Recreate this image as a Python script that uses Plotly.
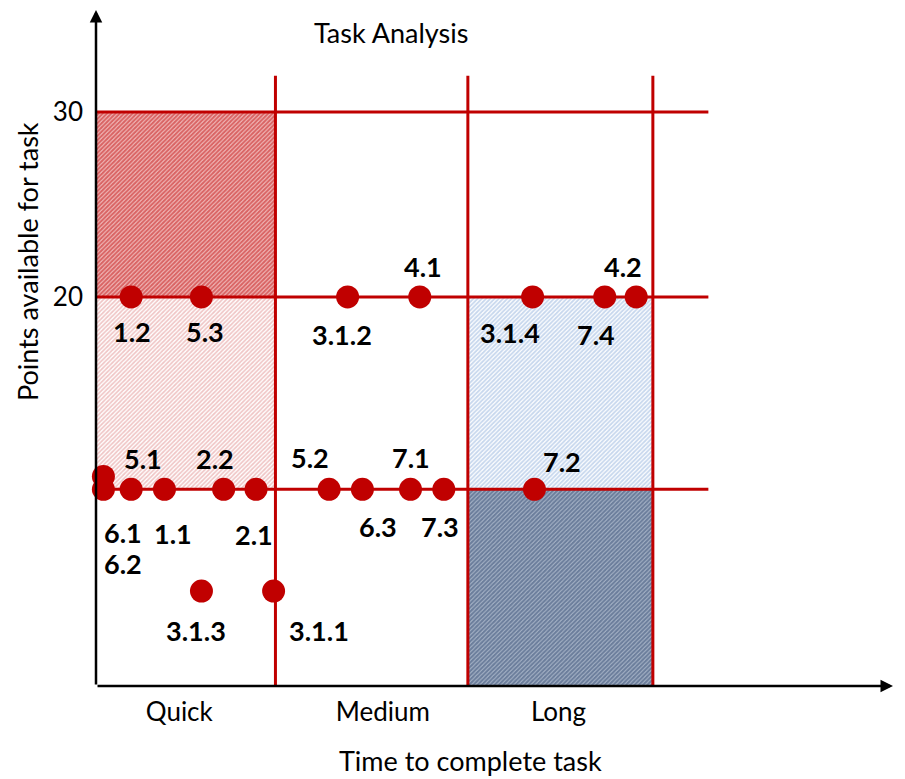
import plotly.graph_objects as go

# ---------------- data ----------------
title_text = "Task Analysis"
x_title = "Time to complete task"
y_title = "Points available for task"

time_categories = ["Quick", "Medium", "Long"]
time_category_centres = [4.5, 15.5, 25.0]
time_boundaries = [9.7, 20.1, 30.1]          # end of Quick / Medium / Long
point_levels = [30, 20, 9.6]                 # horizontal guide levels
y_tick_values = [20, 30]
y_tick_labels = ["20", "30"]

task_ids = ["1.2", "5.3", "3.1.2", "4.1", "3.1.4", "7.4", "4.2",
            "6.1", "6.2", "5.1", "1.1", "2.2", "2.1",
            "5.2", "6.3", "7.1", "7.3", "7.2",
            "3.1.3", "3.1.1"]
task_time = [1.9, 5.7, 13.6, 17.5, 23.6, 27.5, 29.2,
             0.4, 0.4, 1.9, 3.7, 6.9, 8.65,
             12.6, 14.4, 17.0, 18.8, 23.7,
             5.7, 9.6]
task_points = [20, 20, 20, 20, 20, 20, 20,
               10.3, 9.6, 9.6, 9.6, 9.6, 9.6,
               9.6, 9.6, 9.6, 9.6, 9.6,
               4.1, 4.1]

# ---------------- styling / layout ----------------
label_offsets = {  # (xshift, yshift) in px
    "1.2": (1, -35), "5.3": (4, -35), "3.1.2": (-6, -38), "4.1": (3, 30),
    "3.1.4": (-23, -36), "7.4": (-9, -38), "4.2": (-13, 30),
    "6.1": (20, -56), "6.2": (20, -74), "5.1": (12, 31), "1.1": (9, -44),
    "2.2": (-9, 31), "2.1": (-2, -45), "5.2": (-19, 32), "6.3": (16, -37),
    "7.1": (0, 32), "7.3": (-4, -37), "7.2": (28, 28),
    "3.1.3": (-5, -39), "3.1.1": (45, -39),
}

RED = "#c00000"
X_MAX = 43.08
Y_MIN, Y_MAX = -1.03, 35.51
LINE_X_END = 33.1
LINE_Y_TOP = 31.95
FONT = "Lato"
W, H = 905, 779
OFF = 8  # page body margin in the browser
ML, MT = 96 - OFF, 10 - OFF
MR, MB = W - (893 - OFF), H - (686 - OFF)

fig = go.Figure()

def region(x0, x1, y0, y1, fg, bg, solidity, size=3):
    fig.add_trace(go.Scatter(
        x=[x0, x1, x1, x0, x0], y=[y0, y0, y1, y1, y0],
        mode="lines", line=dict(width=0), fill="toself",
        fillcolor=bg,
        fillpattern=dict(shape="/", fgcolor=fg, bgcolor=bg, size=size, solidity=solidity),
        hoverinfo="skip", showlegend=False))

q_end, m_end, l_end = time_boundaries
top, mid, low = point_levels
region(0, q_end, mid, top, "#c00000", "#f3c8c8", 0.7, 3)
region(0, q_end, low, mid, "#e08c8c", "#ffffff", 0.55, 3)
region(m_end, l_end, low, mid, "#8fb0dc", "#ffffff", 0.6, 3)
region(m_end, l_end, Y_MIN, low, "#1f3a64", "#b8c3d4", 0.75, 3)

# red guide lines
lx, ly = [], []
for lv in point_levels:
    lx += [0, LINE_X_END, None]
    ly += [lv, lv, None]
for b in time_boundaries:
    lx += [b, b, None]
    ly += [Y_MIN, LINE_Y_TOP, None]
fig.add_trace(go.Scatter(x=lx, y=ly, mode="lines", line=dict(color=RED, width=3),
                         hoverinfo="skip", showlegend=False, cliponaxis=False))

# task dots
fig.add_trace(go.Scatter(x=task_time, y=task_points, mode="markers",
                         marker=dict(size=23, color=RED, line=dict(width=0)),
                         text=task_ids, hoverinfo="text", showlegend=False,
                         cliponaxis=False))

# task labels
for tid, tx, ty in zip(task_ids, task_time, task_points):
    dx, dy = label_offsets[tid]
    fig.add_annotation(x=tx, y=ty, text=f"<b>{tid}</b>", showarrow=False,
                       xshift=dx, yshift=dy,
                       font=dict(family=FONT, size=27, color="black"))

# axes arrows
fig.add_annotation(x=X_MAX, y=Y_MIN, ax=0, ay=Y_MIN, axref="x", ayref="y",
                   xref="x", yref="y", text="", showarrow=True,
                   arrowhead=2, arrowsize=1, arrowwidth=2.5, arrowcolor="black")
fig.add_annotation(x=0, y=Y_MAX, ax=0, ay=Y_MIN, axref="x", ayref="y",
                   xref="x", yref="y", text="", showarrow=True,
                   arrowhead=2, arrowsize=1, arrowwidth=2.5, arrowcolor="black")

def px_to_paper(px, py):
    px -= OFF
    py -= OFF
    return (px - ML) / (W - ML - MR), 1 - (py - MT) / (H - MT - MB)

tx_, ty_ = px_to_paper(391, 32)
fig.add_annotation(x=tx_, y=ty_, xref="paper", yref="paper", text=title_text,
                   showarrow=False, xanchor="center", yanchor="middle",
                   font=dict(family=FONT, size=27, color="black"))
tx_, ty_ = px_to_paper(27, 262)
fig.add_annotation(x=tx_, y=ty_, xref="paper", yref="paper", text=y_title,
                   textangle=-90, showarrow=False, xanchor="center", yanchor="middle",
                   font=dict(family=FONT, size=27, color="black"))
tx_, ty_ = px_to_paper(470, 760)
fig.add_annotation(x=tx_, y=ty_, xref="paper", yref="paper", text=x_title,
                   showarrow=False, xanchor="center", yanchor="middle",
                   font=dict(family=FONT, size=27, color="black"))

fig.update_layout(
    width=W, height=H, autosize=False,
    margin=dict(l=ML, r=MR, t=MT, b=MB, autoexpand=False),
    plot_bgcolor="white", paper_bgcolor="white",
    xaxis=dict(range=[0, X_MAX], showgrid=False, zeroline=False, showline=False,
               automargin=False,
               tickmode="array", tickvals=time_category_centres, ticktext=time_categories,
               ticks="", ticklabelstandoff=8,
               tickfont=dict(family=FONT, size=26, color="black")),
    yaxis=dict(range=[Y_MIN, Y_MAX], showgrid=False, zeroline=False, showline=False,
               automargin=False,
               tickmode="array", tickvals=y_tick_values, ticktext=y_tick_labels,
               ticks="", ticklabelstandoff=12,
               tickfont=dict(family=FONT, size=26, color="black")),
    showlegend=False,
)

fig.write_html("out.html")
